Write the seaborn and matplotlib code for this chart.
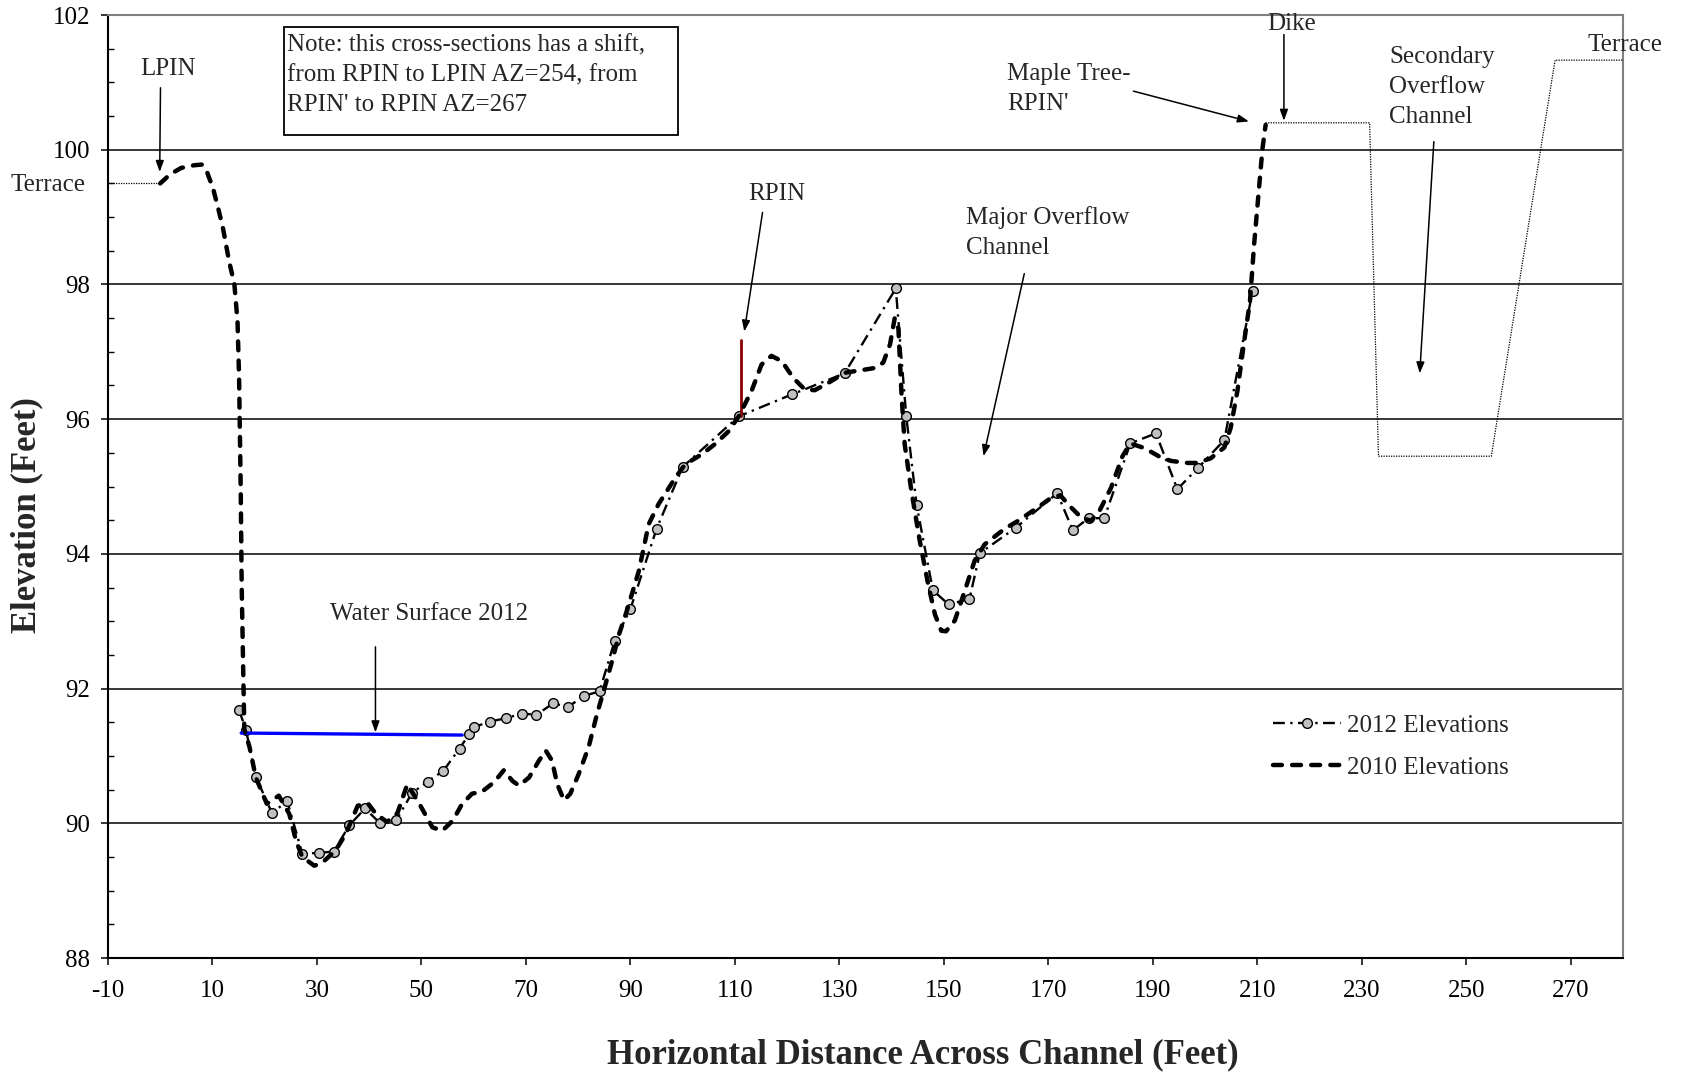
import matplotlib
matplotlib.use("Agg")
import matplotlib.pyplot as plt
import seaborn as sns
from matplotlib.patches import Rectangle
from matplotlib.ticker import MultipleLocator

# ---- 2012 survey: horizontal distance (ft) and elevation (ft) ----
dist_2012 = [15.1, 16.4, 18.3, 21.4, 24.3, 27.2, 30.3, 33.2, 36.2, 39.2,
             42.1, 45.2, 48.2, 51.2, 54.2, 57.3, 59.2, 60.1, 63.1, 66.2,
             69.2, 72.0, 75.2, 78.1, 81.1, 84.1, 87.0, 90.0, 95.0, 100.0,
             110.7, 121.0, 131.0, 140.8, 142.8, 144.8, 147.9, 150.9, 154.9, 156.9,
             163.8, 171.7, 174.7, 177.7, 180.7, 185.7, 190.6, 194.7, 198.7, 203.7,
             209.1]
elev_2012 = [91.68, 91.39, 90.69, 90.15, 90.33, 89.55, 89.56, 89.58, 89.97, 90.22,
             90.00, 90.05, 90.45, 90.62, 90.78, 91.11, 91.33, 91.43, 91.51, 91.56,
             91.63, 91.61, 91.78, 91.73, 91.89, 91.96, 92.71, 93.18, 94.37, 95.29,
             96.04, 96.37, 96.68, 97.94, 96.05, 94.72, 93.46, 93.25, 93.33, 94.01,
             94.39, 94.90, 94.35, 94.53, 94.53, 95.64, 95.79, 94.96, 95.28, 95.69,
             97.91]

# ---- 2010 survey profile ----
dist_2010 = [0.0, 1.8, 4.0, 6.5, 8.0, 9.0, 10.1, 11.1, 12.0, 13.2,
             14.2, 14.8, 15.1, 15.4, 15.6, 15.9, 16.1, 17.1, 18.3, 20.4,
             22.7, 24.7, 26.0, 27.2, 29.5, 31.1, 33.6, 35.5, 37.8, 39.7,
             41.3, 43.4, 45.4, 47.3, 49.6, 52.1, 54.0, 56.0, 57.8, 59.7,
             61.6, 63.9, 65.8, 67.4, 68.7, 70.6, 72.5, 73.8, 75.0, 76.0,
             77.3, 78.5, 80.1, 82.0, 83.6, 84.9, 86.5, 87.8, 89.3, 91.6,
             93.5, 95.4, 98.6, 100.5, 103.7, 106.2, 108.8, 110.8, 113.2, 115.1,
             117.0, 119.0, 121.2, 123.4, 125.3, 127.9, 131.1, 133.6, 136.8, 138.4,
             139.7, 140.6, 141.3, 141.9, 142.5, 143.8, 145.4, 147.0, 148.3, 149.5,
             150.4, 152.1, 154.0, 155.9, 157.8, 161.6, 164.2, 168.0, 170.5, 172.3,
             174.1, 176.3, 178.2, 179.8, 182.0, 184.2, 185.7, 188.4, 191.6, 193.5,
             196.7, 198.6, 201.1, 203.7, 204.9, 206.2, 207.5, 208.6, 209.4, 210.3,
             211.0, 211.6]
elev_2010 = [99.50, 99.63, 99.73, 99.77, 99.78, 99.66, 99.43, 99.13, 98.84, 98.34,
             98.00, 97.45, 96.60, 95.00, 93.50, 92.20, 91.40, 91.13, 90.68, 90.29,
             90.41, 90.14, 89.74, 89.50, 89.37, 89.42, 89.60, 89.84, 90.26, 90.30,
             90.14, 90.02, 90.15, 90.58, 90.29, 89.94, 89.89, 90.04, 90.29, 90.44,
             90.47, 90.61, 90.79, 90.63, 90.56, 90.68, 90.93, 91.08, 90.93, 90.58,
             90.34, 90.44, 90.73, 91.13, 91.62, 91.97, 92.41, 92.80, 93.15, 93.74,
             94.44, 94.74, 95.13, 95.33, 95.48, 95.63, 95.82, 96.05, 96.42, 96.81,
             96.94, 96.86, 96.61, 96.44, 96.43, 96.54, 96.69, 96.72, 96.76, 96.84,
             97.11, 97.50, 97.35, 96.37, 95.63, 94.93, 94.19, 93.55, 93.10, 92.86,
             92.85, 93.01, 93.45, 93.90, 94.14, 94.37, 94.49, 94.69, 94.83, 94.87,
             94.71, 94.54, 94.49, 94.64, 94.98, 95.45, 95.64, 95.57, 95.43, 95.38,
             95.35, 95.35, 95.42, 95.58, 95.87, 96.42, 97.16, 97.75, 98.60, 99.40,
             100.02, 100.37]

# ---- terrace / dike / secondary channel outline (dotted) ----
left_terrace_x = [-10.0, 0.0]
left_terrace_y = [99.50, 99.50]
dike_x = [211.6, 231.5, 233.2, 254.8, 267.0, 280.0]
dike_y = [100.40, 100.40, 95.45, 95.45, 101.33, 101.33]

# ---- 2012 water surface ----
water_x = [15.5, 57.8]
water_y = [91.34, 91.31]

# ---- RPIN marker ----
rpin_x = [111.2, 111.2]
rpin_y = [96.05, 97.17]

x_ticks = list(range(-10, 271, 20))
y_ticks = list(range(88, 103, 2))

sns.set_theme(style="white")
plt.rcParams["font.family"] = ["Liberation Serif", "DejaVu Serif"]
plt.rcParams["axes.unicode_minus"] = False

FS = 18

fig = plt.figure(figsize=(16.82, 10.74), dpi=100)
ax = fig.add_axes([0.0642, 0.108, 0.9007, 0.878])

# survey profiles
sns.lineplot(x=dist_2012, y=elev_2012, ax=ax, sort=False, estimator=None,
             color="black", linewidth=1.7, linestyle=(0, (5.0, 2.3, 1, 2.3)),
             marker="o", markersize=7.0, markerfacecolor="#C0C0C0",
             markeredgecolor="black", markeredgewidth=1.0,
             label="2012 Elevations", zorder=3)
sns.lineplot(x=dist_2010, y=elev_2010, ax=ax, sort=False, estimator=None,
             color="black", linewidth=3.2, linestyle=(0, (2.0, 2.3)),
             dash_capstyle="round", label="2010 Elevations", zorder=4)
sns.lineplot(x=left_terrace_x, y=left_terrace_y, ax=ax, sort=False, estimator=None,
             color="black", linewidth=0.9, linestyle=(0, (1, 1)), zorder=3)
sns.lineplot(x=dike_x, y=dike_y, ax=ax, sort=False, estimator=None,
             color="black", linewidth=0.9, linestyle=(0, (1, 1)), zorder=3)
sns.lineplot(x=water_x, y=water_y, ax=ax, sort=False, estimator=None,
             color="#0000FF", linewidth=2.4, zorder=3)
sns.lineplot(x=rpin_x, y=rpin_y, ax=ax, sort=False, estimator=None,
             color="#8B0000", linewidth=2.0, zorder=3)

# axes
ax.set_xlim(-10, 280)
ax.set_ylim(88, 102)
ax.set_xticks(x_ticks)
ax.set_yticks(y_ticks)
ax.yaxis.set_minor_locator(MultipleLocator(0.5))
ax.tick_params(axis="x", which="major", direction="out", length=5, width=1.1,
               color="black", labelsize=FS, pad=11, labelcolor="black", bottom=True)
ax.tick_params(axis="y", which="major", direction="out", length=5, width=1.1,
               color="black", labelsize=FS, pad=8, labelcolor="black", left=True)
ax.tick_params(axis="y", which="minor", direction="in", length=4, width=1.0,
               color="black", left=True)
ax.set_axisbelow(True)
ax.yaxis.grid(True, which="major", color="black", linewidth=1.1)
ax.xaxis.grid(False)
for side in ("top", "right"):
    ax.spines[side].set_color("#808080")
    ax.spines[side].set_linewidth(1.5)
for side in ("left", "bottom"):
    ax.spines[side].set_color("black")
    ax.spines[side].set_linewidth(1.5)

ax.set_xlabel("Horizontal Distance Across Channel (Feet)", fontsize=25,
              fontweight="bold")
ax.set_ylabel("Elevation (Feet)", fontsize=25, fontweight="bold")
ax.xaxis.set_label_coords(0.538, -0.085)
ax.yaxis.set_label_coords(-0.043, 0.47)

# legend
handles, labels = ax.get_legend_handles_labels()
ax.legend(handles=handles, labels=labels, loc="upper left",
          bbox_to_anchor=(0.769, 0.258), frameon=False, fontsize=FS,
          handlelength=2.72, handletextpad=0.24, labelspacing=0.78,
          borderpad=0, borderaxespad=0, numpoints=1)

# note box
ax.add_patch(Rectangle((23.6, 100.22), 75.5, 1.6, fill=False, edgecolor="black",
                       linewidth=1.3, zorder=5))
ax.text(24.3, 101.71,
        "Note: this cross-sections has a shift,\n"
        "from RPIN to LPIN AZ=254, from\n"
        "RPIN' to RPIN AZ=267",
        fontsize=FS, ha="left", va="top", linespacing=1.45, zorder=6)

arrow_kw = dict(arrowstyle="-|>,head_length=0.55,head_width=0.2",
                color="black", lw=1.1, shrinkA=0, shrinkB=0)


def label_arrow(text, text_xy, tail, tip, ha="center", va="center"):
    ax.text(text_xy[0], text_xy[1], text, fontsize=FS, ha=ha, va=va,
            linespacing=1.45, clip_on=False, zorder=6)
    ax.annotate("", xy=tip, xytext=tail, arrowprops=arrow_kw, zorder=6)


label_arrow("LPIN", (1.5, 101.2), (0.05, 100.92), (-0.1, 99.67))
label_arrow("RPIN", (118.0, 99.34), (115.3, 99.07), (111.8, 97.3))
label_arrow("Major Overflow\nChannel", (154.3, 98.77), (165.4, 98.16), (157.6, 95.45),
            ha="left")
label_arrow("Water Surface 2012", (51.4, 93.1), (41.2, 92.62), (41.2, 91.35))
label_arrow("Maple Tree-\nRPIN'", (162.1, 100.9), (186.3, 100.87), (208.4, 100.42),
            ha="left")
label_arrow("Dike", (216.6, 101.87), (215.1, 101.71), (215.1, 100.43))
label_arrow("Secondary\nOverflow\nChannel", (235.3, 100.93), (243.8, 100.12),
            (241.1, 96.68), ha="left")
ax.text(-14.3, 99.48, "Terrace", fontsize=FS, ha="right", va="center", clip_on=False)
ax.text(273.3, 101.55, "Terrace", fontsize=FS, ha="left", va="center", clip_on=False)

fig.savefig("out.png", dpi=100)
